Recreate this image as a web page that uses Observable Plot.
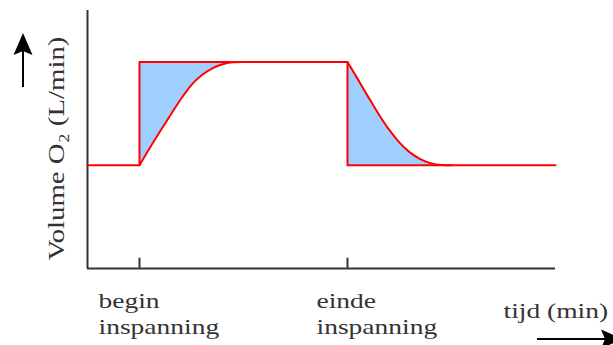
<!DOCTYPE html>
<html>
<head>
<meta charset="utf-8">
<script src="https://cdn.jsdelivr.net/npm/d3@7"></script>
<script src="https://cdn.jsdelivr.net/npm/@observablehq/plot@0.6"></script>
<style>
  html, body { margin: 0; padding: 0; background: #fff; }
</style>
</head>
<body>
<div id="chart"></div>
<script>
// ---- data ----
const restLevel = 4;
const workLevel = 8;
const stepT = [0, 1, 1, 5, 5, 9];
const stepV = [4, 4, 8, 8, 4, 4];
const riseT = [1, 1.2, 1.4, 1.6, 1.8, 2.0, 2.2, 2.4, 2.6, 2.8, 3.0];
const riseV = [4, 4.68, 5.33, 5.96, 6.58, 7.12, 7.5, 7.76, 7.92, 7.99, 8];
const fallT = [5, 5.2, 5.4, 5.6, 5.8, 6.0, 6.2, 6.4, 6.6, 6.8, 7.0];
const fallV = [8, 7.33, 6.65, 5.98, 5.38, 4.88, 4.5, 4.24, 4.08, 4.01, 4];
const tickT = [1, 5];
const tickLabels = ["begin\ninspanning", "einde\ninspanning"];
const xLabel = "tijd (min)";
const yLabel = "Volume O\u2082 (L/min)";
const xDomain = [0, 9];
const yDomain = [0, 10];

// ---- tables ----
const step = stepT.map((t, i) => ({t, v: stepV[i]}));
const rise = riseT.map((t, i) => ({t, v: riseV[i]}));
const fall = fallT.map((t, i) => ({t, v: fallV[i]}));
const ticks = tickT.map((t, i) => ({t, label: tickLabels[i]}));

const W = 613, H = 345;
const mL = 87, mR = 58, mT = 10, mB = 77;
const red = "#ff0000", axisCol = "#333", textCol = "#333";
const font = "Liberation Serif";
const yMid = (yDomain[0] + yDomain[1]) / 2;

const plot = Plot.plot({
  width: W, height: H,
  marginLeft: mL, marginRight: mR, marginTop: mT, marginBottom: mB,
  x: {domain: xDomain, axis: null},
  y: {domain: yDomain, axis: null},
  style: {fontFamily: font, background: "#fff", overflow: "visible"},
  marks: [
    Plot.areaY(rise, {x: "t", y1: "v", y2: workLevel, fill: "#a0d0ff", curve: "monotone-x"}),
    Plot.areaY(fall, {x: "t", y1: restLevel, y2: "v", fill: "#a0d0ff", curve: "monotone-x"}),
    Plot.ruleX([xDomain[0]], {y1: yDomain[0], y2: yDomain[1], stroke: axisCol, strokeWidth: 2}),
    Plot.ruleY([yDomain[0]], {x1: xDomain[0], x2: xDomain[1], stroke: axisCol, strokeWidth: 2}),
    Plot.ruleX(ticks, {x: "t", y1: yDomain[0], y2: 0.4, stroke: axisCol, strokeWidth: 2}),
    Plot.line(step, {x: "t", y: "v", stroke: red, strokeWidth: 2}),
    Plot.line(rise, {x: "t", y: "v", stroke: red, strokeWidth: 2, curve: "monotone-x"}),
    Plot.line(fall, {x: "t", y: "v", stroke: red, strokeWidth: 2, curve: "monotone-x"}),
    Plot.text(ticks.slice(0, 1), {x: "t", y: yDomain[0], text: "label", textAnchor: "start", lineAnchor: "top",
      dx: -41, dy: 21, fontSize: 22, lineHeight: 1.18, fill: textCol, fontFamily: font}),
    Plot.text(ticks.slice(1), {x: "t", y: yDomain[0], text: "label", textAnchor: "start", lineAnchor: "top",
      dx: -31, dy: 21, fontSize: 22, lineHeight: 1.18, fill: textCol, fontFamily: font}),
    Plot.text([xLabel], {x: xDomain[1], y: yDomain[0], textAnchor: "start", lineAnchor: "top",
      dx: -52, dy: 34, fontSize: 22, fill: textCol, fontFamily: font}),
    Plot.text([yLabel], {x: xDomain[0], y: yMid, rotate: -90, textAnchor: "middle", lineAnchor: "top",
      dx: -41, dy: 9, fontSize: 24, fill: textCol, fontFamily: font})
  ]
});

// widen the serif lettering horizontally (the reference type is set wide)
d3.select(plot).selectAll("text").each(function () {
  const tr = this.getAttribute("transform") || "";
  const s = tr.includes("rotate") ? 1.2 : 1.25;
  this.setAttribute("transform", `${tr} scale(${s},1)`);
});

// decorative axis-direction arrows
const svg = d3.select(plot);
const g = svg.append("g").attr("fill", "#000").attr("stroke", "#000");
const ax = mL - 64;
g.append("line").attr("x1", ax).attr("x2", ax).attr("y1", mT + 77).attr("y2", mT + 40).attr("stroke-width", 2);
g.append("path").attr("stroke", "none")
  .attr("d", `M${ax},${mT + 23} L${ax + 9.5},${mT + 45} L${ax},${mT + 41} L${ax - 9.5},${mT + 45} Z`);
const ay = H - 6;
g.append("line").attr("x1", W - 76).attr("x2", W - 5).attr("y1", ay).attr("y2", ay).attr("stroke-width", 2);
g.append("path").attr("stroke", "none")
  .attr("d", `M${W + 10},${ay} L${W - 12},${ay - 9.5} L${W - 8},${ay} L${W - 12},${ay + 9.5} Z`);

document.getElementById("chart").appendChild(plot);
</script>
</body>
</html>
